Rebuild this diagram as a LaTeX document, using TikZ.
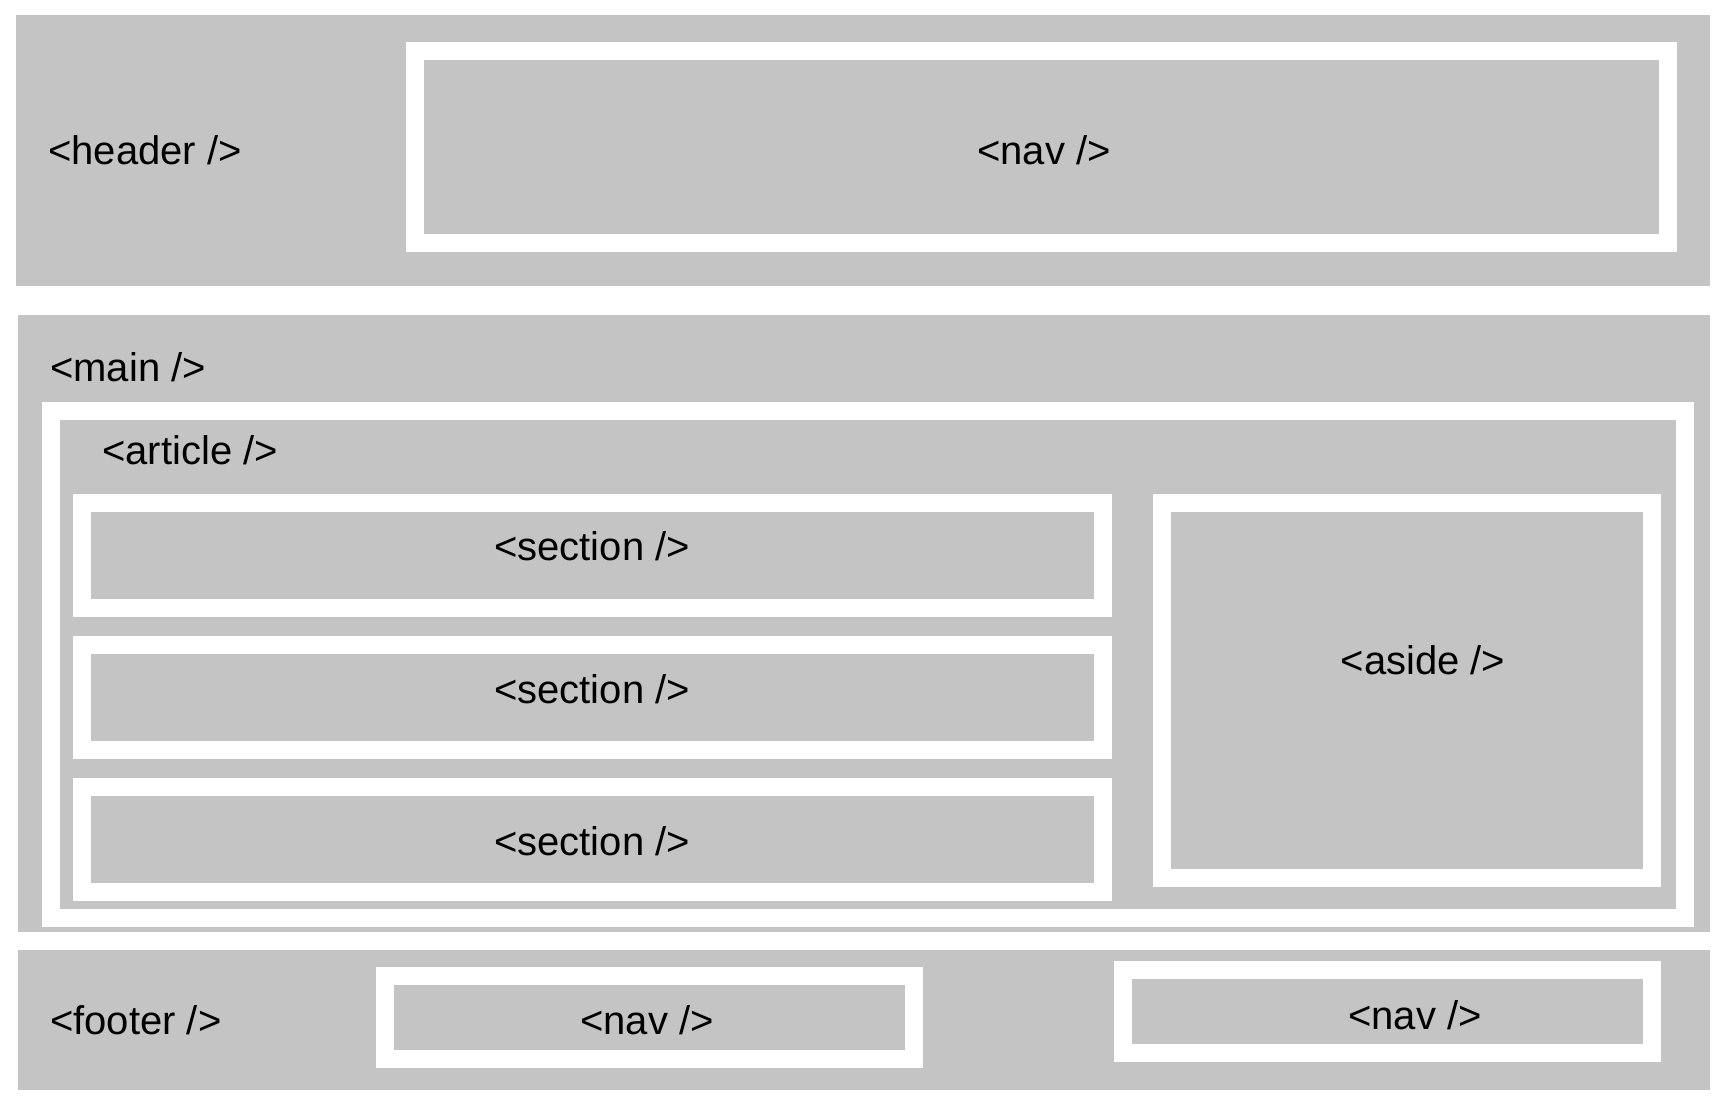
\documentclass[tikz,border=0pt]{standalone}
\usepackage{fontspec}
\setmainfont{Liberation Sans}
\definecolor{boxgray}{RGB}{196,196,196}
\tikzset{
  graybox/.style={fill=boxgray},
  whitebox/.style={fill=white},
  lbl/.style={inner sep=0pt, anchor=base, font=\fontsize{40}{48}\selectfont, text=black},
  lbll/.style={lbl, anchor=base west}
}
\begin{document}
\begin{tikzpicture}[x=1pt,y=-1pt]
\useasboundingbox[fill=white] (0,0) rectangle (1728,1117);
% header
\fill[graybox] (16,15) rectangle (1710,286);
\fill[whitebox] (406,42) rectangle (1677,252);
\fill[graybox] (424,60) rectangle (1659,234);
\node[lbll] (header) at (48,164) {<header />};
\node[lbl] (hnav) at (1044,164) {<nav />};
% main
\fill[graybox] (18,315) rectangle (1710,932);
\fill[whitebox] (42,402) rectangle (1694,927);
\fill[graybox] (60,420) rectangle (1676,909);
\node[lbll] (main) at (50,381) {<main />};
\node[lbll] (article) at (102,464) {<article />};
% sections
\fill[whitebox] (73,494) rectangle (1112,617);
\fill[graybox] (91,512) rectangle (1094,599);
\fill[whitebox] (73,636) rectangle (1112,759);
\fill[graybox] (91,654) rectangle (1094,741);
\fill[whitebox] (73,778) rectangle (1112,901);
\fill[graybox] (91,796) rectangle (1094,883);
\node[lbl] (sec1) at (592,560) {<section />};
\node[lbl] (sec2) at (592,703) {<section />};
\node[lbl] (sec3) at (592,855) {<section />};
% aside
\fill[whitebox] (1153,494) rectangle (1661,887);
\fill[graybox] (1171,512) rectangle (1643,869);
\node[lbl] (aside) at (1423,674) {<aside />};
% footer
\fill[graybox] (18,950) rectangle (1710,1090);
\fill[whitebox] (376,967) rectangle (923,1068);
\fill[graybox] (394,985) rectangle (905,1050);
\fill[whitebox] (1114,961) rectangle (1661,1062);
\fill[graybox] (1132,979) rectangle (1643,1044);
\node[lbll] (footer) at (50,1034) {<footer />};
\node[lbl] (fnav1) at (647,1034) {<nav />};
\node[lbl] (fnav2) at (1415,1029) {<nav />};
\end{tikzpicture}
\end{document}
